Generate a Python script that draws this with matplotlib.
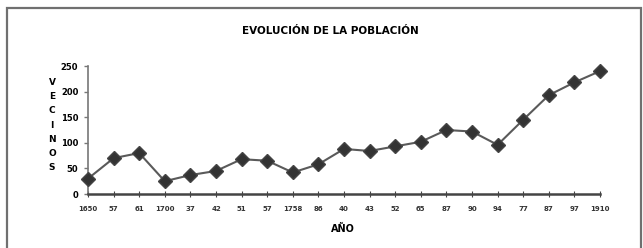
import matplotlib.pyplot as plt
from matplotlib.patches import Rectangle

# Data
years = ["1650", "57", "61", "1700", "37", "42", "51", "57", "1758", "86",
         "40", "43", "52", "65", "87", "90", "94", "77", "87", "97", "1910"]
vecinos = [30, 70, 80, 25, 37, 45, 68, 65, 42, 58,
           88, 84, 93, 102, 125, 122, 96, 145, 193, 218, 240]
yticks = [0, 50, 100, 150, 200, 250]

fig = plt.figure(figsize=(6.43, 2.48), dpi=100)
fig.patch.set_facecolor("white")

# outer frame
fig.patches.append(Rectangle((7 / 643, -0.1), 634 / 643, 1.1 - 8 / 248,
                             transform=fig.transFigure, fill=False,
                             edgecolor="#707070", linewidth=1.6))

ax = fig.add_axes([88 / 643, 1 - 194 / 248, 512 / 643, 128 / 248])
x = list(range(len(years)))
ax.plot(x, vecinos, color="#5a5a5a", linewidth=1.5, marker="D",
        markersize=7.5, markerfacecolor="#333333", markeredgecolor="#444444",
        clip_on=False, zorder=3)

ax.set_xlim(0, len(years) - 1)
ax.set_ylim(0, 250)
ax.set_yticks(yticks)
ax.set_yticklabels([str(v) for v in yticks], fontsize=6, fontweight="bold")
ax.set_xticks(x)
ax.set_xticklabels(years, fontsize=5, fontweight="bold", color="#333333")

for side in ("top", "right"):
    ax.spines[side].set_visible(False)
ax.spines["left"].set_color("#777777")
ax.spines["left"].set_linewidth(1.2)
ax.spines["bottom"].set_color("#444444")
ax.spines["bottom"].set_linewidth(1.8)
ax.tick_params(axis="y", direction="out", length=3, width=1, color="#777777", pad=4)
ax.tick_params(axis="x", direction="inout", length=5, width=0.8, color="#444444", pad=6)

fig.text(330 / 643, 1 - 31 / 248, "EVOLUCIÓN DE LA POBLACIÓN", ha="center",
         va="center", fontsize=7.5, fontweight="heavy")
fig.text(343 / 643, 1 - 229 / 248, "AÑO", ha="center", va="center",
         fontsize=7, fontweight="heavy")
fig.text(52 / 643, 1 - 125 / 248, "\n".join("VECINOS"), ha="center",
         va="center", fontsize=6.5, fontweight="bold", linespacing=1.75)

fig.savefig("out.png", dpi=100)
